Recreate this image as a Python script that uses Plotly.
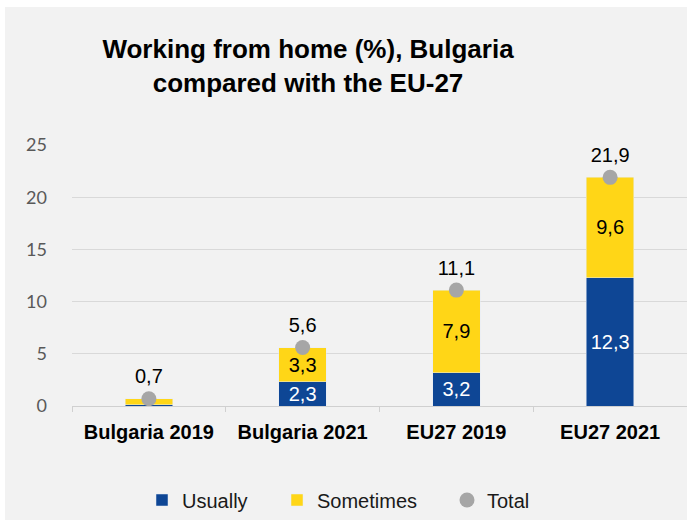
import plotly.graph_objects as go

categories = ["Bulgaria 2019", "Bulgaria 2021", "EU27 2019", "EU27 2021"]
usually = [0.1, 2.3, 3.2, 12.3]
sometimes = [0.6, 3.3, 7.9, 9.6]
total = [0.7, 5.6, 11.1, 21.9]
# segment labels are hidden where the segment is too thin
show_segment_label = [False, True, True, True]

BLUE = "#0e4695"
YELLOW = "#ffd617"
GREY = "#a6a6a6"
FONT = "Liberation Sans"


def fmt(v):
    return f"{v:.1f}".replace(".", ",")


def seg_text(vals):
    return [fmt(v) if s else "" for v, s in zip(vals, show_segment_label)]


fig = go.Figure()
fig.add_trace(go.Bar(
    name="Usually", x=categories, y=usually, marker_color=BLUE,
    text=seg_text(usually), textposition="inside", insidetextanchor="middle",
    textfont=dict(family=FONT, size=20, color="white"), constraintext="none",
    hoverinfo="skip", legend="legend",
))
fig.add_trace(go.Bar(
    name="Sometimes", x=categories, y=sometimes, marker_color=YELLOW,
    text=seg_text(sometimes), textposition="inside", insidetextanchor="middle",
    textfont=dict(family=FONT, size=20, color="black"), constraintext="none",
    hoverinfo="skip", legend="legend2",
))
fig.add_trace(go.Scatter(
    name="Total", x=categories, y=total, mode="markers+text",
    marker=dict(color=GREY, size=15),
    text=[fmt(v) for v in total], textposition="top center",
    textfont=dict(family=FONT, size=20, color="black"),
    hoverinfo="skip", legend="legend3",
))

# grey chart panel
fig.add_shape(type="rect", xref="paper", yref="paper",
              x0=-67 / 615, x1=1.0, y0=-114 / 261, y1=1 + 138 / 261,
              fillcolor="#f2f2f2", line_width=0, layer="below")


def legend_at(px):
    return dict(orientation="h", xref="container", yref="container",
                x=px / 687, xanchor="left", y=1 - 500 / 525, yanchor="middle",
                font=dict(family=FONT, size=20, color="#1a1a1a"),
                bgcolor="rgba(0,0,0,0)", itemwidth=30)


fig.update_layout(
    width=687, height=525,
    margin=dict(l=72, r=0, t=145, b=119),
    paper_bgcolor="white", plot_bgcolor="#f2f2f2",
    barmode="stack", bargap=0.69,
    separators=", ",
    showlegend=True,
    legend=legend_at(142),
    legend2=legend_at(277),
    legend3=legend_at(447),
    title=dict(text="<b>Working from home (%), Bulgaria<br>compared with the EU-27</b>",
               x=308 / 687, xanchor="center", xref="container", y=1 - 58 / 525, yanchor="middle",
               font=dict(family=FONT, size=26, color="black")),
    font=dict(family=FONT),
)
fig.update_xaxes(
    showline=True, linecolor="#d0d0d0", linewidth=1,
    ticks="outside", tickson="boundaries", ticklen=5, tickcolor="#d0d0d0",
    tickfont=dict(family=FONT, size=20, color="black", weight="bold"),
    ticklabelstandoff=8,
)
fig.update_yaxes(
    range=[0, 25], dtick=5, showgrid=True, gridcolor="#d9d9d9", gridwidth=1,
    zeroline=False, showline=False,
    tickfont=dict(family="Lato", size=18, color="#595959"),
    ticklabelstandoff=24,
)

fig.write_html("out.html")
